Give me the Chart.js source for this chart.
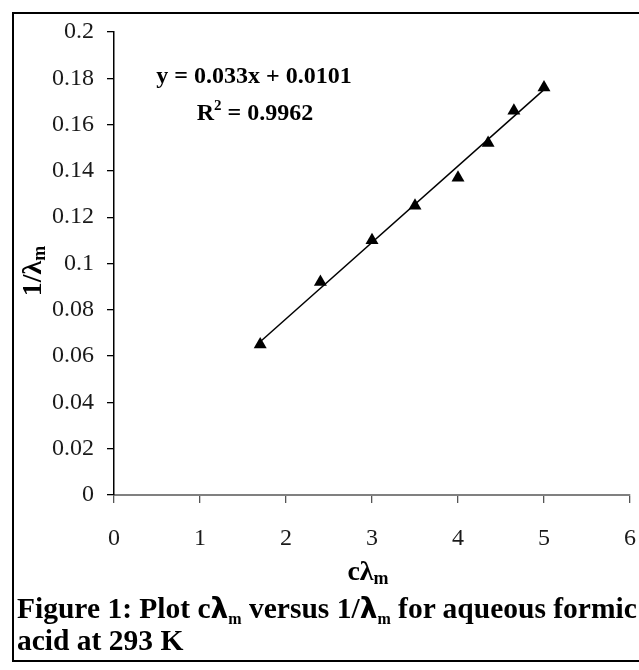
<!DOCTYPE html>
<html><head><meta charset="utf-8">
<script src="https://cdn.jsdelivr.net/npm/chart.js@4/dist/chart.umd.min.js"></script>
<style>
html,body{margin:0;padding:0;background:#fff;overflow:hidden;width:639px;height:670px;}
#frame{position:absolute;left:12px;top:12px;width:700px;height:646px;border:2px solid #000;}
#wrap{position:absolute;left:0;top:0;width:639px;height:670px;}
#caption{position:absolute;left:17px;top:592px;font:bold 29.5px "Liberation Serif",serif;line-height:32px;white-space:nowrap;color:#000;}
.lam{font-family:"DejaVu Sans",sans-serif;font-weight:bold;font-size:28px;line-height:0;}
.sub{font-size:16px;vertical-align:-6px;line-height:0;}
</style></head>
<body>
<div id="frame"></div>
<div id="wrap"><canvas id="c" width="639" height="670"></canvas></div>
<div id="caption">Figure 1: Plot c<span class="lam">λ</span><span class="sub">m</span> versus 1/<span class="lam">λ</span><span class="sub">m</span> for aqueous formic<br>acid at 293 K</div>
<script>
// ---- data ----
const cLambda   = [1.7, 2.4, 3.0, 3.5, 4.0, 4.35, 4.65, 5.0];
const invLambda = [0.065, 0.092, 0.110, 0.125, 0.137, 0.152, 0.166, 0.176];
const trendX = [1.7, 5.0];
const trendY = [0.0662, 0.1751];
const xTicks = [0, 1, 2, 3, 4, 5, 6];
const xTickLabels = ['0', '1', '2', '3', '4', '5', '6'];
const yTicks = [0, 0.02, 0.04, 0.06, 0.08, 0.1, 0.12, 0.14, 0.16, 0.18, 0.2];
const yTickLabels = ['0', '0.02', '0.04', '0.06', '0.08', '0.1', '0.12', '0.14', '0.16', '0.18', '0.2'];
const equationText = 'y = 0.033x + 0.0101';
const r2Parts = ['R', '2', ' = 0.9962'];
const xTitleParts = ['c\u03bb', 'm'];
const yTitleParts = ['1/\u03bb', 'm'];

const SERIF = "'Liberation Serif', serif";

const annot = {
  id: 'annot',
  afterDraw(chart) {
    const ctx = chart.ctx;
    ctx.save();
    ctx.fillStyle = '#000';
    ctx.textBaseline = 'alphabetic';
    // equation
    ctx.font = 'bold 24px ' + SERIF;
    ctx.textAlign = 'center';
    ctx.fillText(equationText, 254, 83);
    // R^2 line
    ctx.textAlign = 'left';
    ctx.font = 'bold 24px ' + SERIF;
    const w0 = ctx.measureText(r2Parts[0]).width;
    const w2 = ctx.measureText(r2Parts[2]).width;
    ctx.font = 'bold 15px ' + SERIF;
    const w1 = ctx.measureText(r2Parts[1]).width;
    let x = 255 - (w0 + w1 + w2) / 2;
    ctx.font = 'bold 24px ' + SERIF;
    ctx.fillText(r2Parts[0], x, 120); x += w0;
    ctx.font = 'bold 15px ' + SERIF;
    ctx.fillText(r2Parts[1], x, 110); x += w1;
    ctx.font = 'bold 24px ' + SERIF;
    ctx.fillText(r2Parts[2], x, 120);

    // x title
    ctx.font = 'bold 28px ' + SERIF;
    const xa = ctx.measureText(xTitleParts[0]).width;
    ctx.font = 'bold 18px ' + SERIF;
    const xb = ctx.measureText(xTitleParts[1]).width;
    let tx = 368 - (xa + xb) / 2;
    ctx.font = 'bold 28px ' + SERIF;
    ctx.fillText(xTitleParts[0], tx, 580);
    ctx.font = 'bold 18px ' + SERIF;
    ctx.fillText(xTitleParts[1], tx + xa, 584);

    // y title (rotated)
    ctx.translate(0, 271);
    ctx.rotate(-Math.PI / 2);
    ctx.font = 'bold 28px ' + SERIF;
    const ya = ctx.measureText(yTitleParts[0]).width;
    ctx.font = 'bold 18px ' + SERIF;
    const yb = ctx.measureText(yTitleParts[1]).width;
    let ty = -(ya + yb) / 2;
    ctx.font = 'bold 28px ' + SERIF;
    ctx.fillText(yTitleParts[0], ty, 41);
    ctx.font = 'bold 18px ' + SERIF;
    ctx.fillText(yTitleParts[1], ty + ya, 45);
    ctx.restore();
  }
};

new Chart(document.getElementById('c'), {
  type: 'scatter',
  data: {
    datasets: [
      {
        data: cLambda.map((v, i) => ({ x: v, y: invLambda[i] })),
        pointStyle: 'triangle',
        pointRadius: 7.5,
        pointBackgroundColor: '#000',
        pointBorderColor: '#000',
        pointBorderWidth: 0,
        showLine: false,
        order: 0
      },
      {
        data: trendX.map((v, i) => ({ x: v, y: trendY[i] })),
        showLine: true,
        pointRadius: 0,
        borderColor: '#000',
        borderWidth: 1.5,
        order: 1
      }
    ]
  },
  options: {
    responsive: false,
    animation: false,
    layout: { padding: { left: 0, right: 9, top: 32, bottom: 0 } },
    plugins: { legend: { display: false }, tooltip: { enabled: false } },
    scales: {
      x: {
        type: 'linear', min: 0, max: 6,
        afterBuildTicks: s => { s.ticks = xTicks.map(v => ({ value: v })); },
        afterFit: s => { s.height = 175; s.paddingLeft = 0; s.paddingRight = 0; },
        ticks: {
          callback: (v, i) => xTickLabels[i],
          font: { family: SERIF, size: 24 },
          color: '#1a1a1a', padding: 21, maxRotation: 0, autoSkip: false
        },
        grid: { drawOnChartArea: false, drawTicks: true, tickLength: 8, color: '#555', lineWidth: 1.3 },
        border: { color: '#808080', width: 2 }
      },
      y: {
        type: 'linear', min: 0, max: 0.2,
        afterBuildTicks: s => { s.ticks = yTicks.map(v => ({ value: v })); },
        afterFit: s => { s.width = 114; s.paddingTop = 0; s.paddingBottom = 0; },
        ticks: {
          callback: (v, i) => yTickLabels[i],
          font: { family: SERIF, size: 24 },
          color: '#1a1a1a', padding: 13, autoSkip: false
        },
        grid: { drawOnChartArea: false, drawTicks: true, tickLength: 7, color: '#000', lineWidth: 1.3 },
        border: { color: '#000', width: 1.5 }
      }
    }
  },
  plugins: [annot]
});
</script>
</body></html>
